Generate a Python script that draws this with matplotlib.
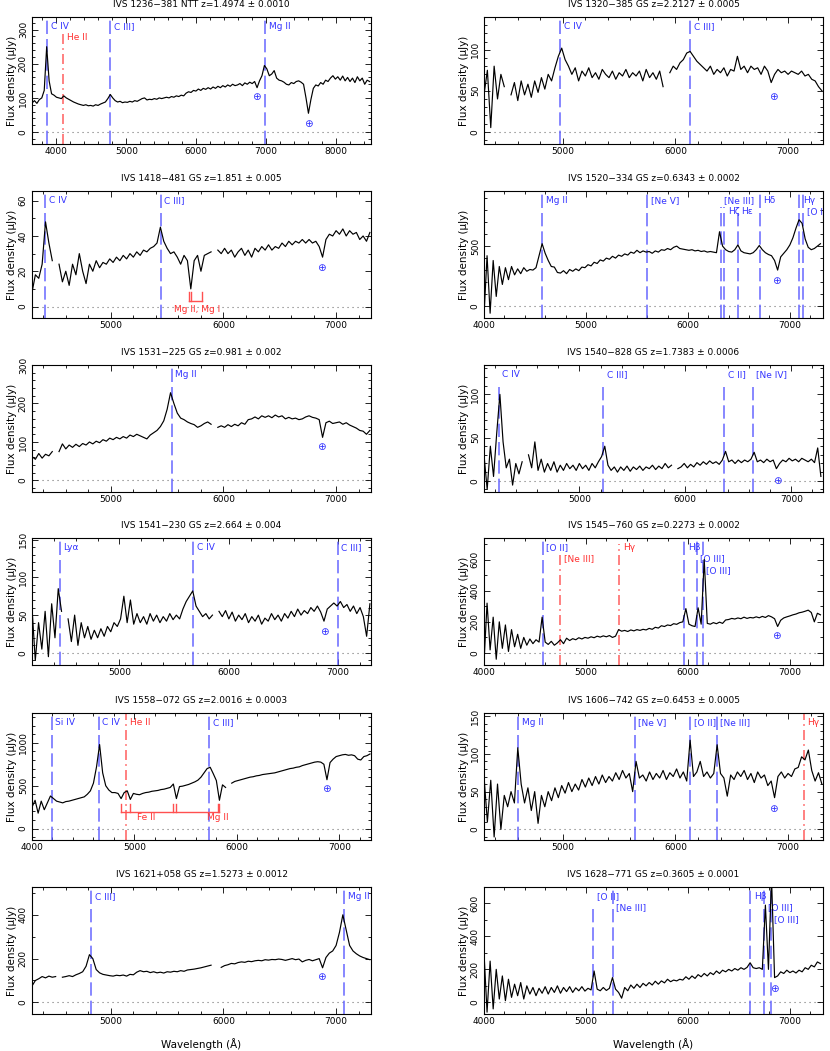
import numpy as np
import matplotlib.pyplot as plt
from matplotlib.ticker import MultipleLocator

plt.rcParams['font.family'] = ['DejaVu Sans']
plt.rcParams['font.size'] = 6.5

nan = np.nan

# ---- spectra (flux density in uJy), evenly sampled from a start wavelength ----
# IVS 1236-381, 3650 A, step 35 A
flux_1236 = [85, 92, 84, 95, 100, 122, 250, 150, 112, 108,
             102, 100, 98, 106, 100, 96, 92, 88, 85, 82,
             80, 78, 80, 77, 78, 76, 80, 78, 82, 85,
             88, 98, 110, 100, 92, 88, 90, 86, 88, 87,
             90, 88, 92, 90, 94, 98, 100, 94, 96, 95,
             98, 96, 100, 98, 100, 102, 100, 104, 102, 106,
             104, 108, 106, 114, 118, 116, 122, 120, 126, 122,
             128, 125, 130, 126, 132, 128, 134, 130, 136, 132,
             138, 134, 140, 136, 138, 142, 136, 144, 140, 146,
             142, 148, 130, 150, 165, 195, 185, 165, 170, 180,
             158, 152, 150, 146, 140, 138, 145, 142, 148, 150,
             146, 140, 100, 55, 95, 128, 138, 135, 145, 140,
             152, 148, 158, 165, 155, 162, 152, 164, 150, 160,
             148, 158, 145, 162, 150, 158, 140, 152, 148]
# IVS 1320-385, 4300 A, step 30 A
flux_1320 = [45, 75, 5, 80, 40, 70, 55, nan, 45, 60,
             38, 62, 45, 58, 42, 62, 48, 66, 52, 70,
             62, 78, 92, 102, 88, 80, 70, 78, 62, 74,
             68, 78, 66, 72, 64, 76, 70, 66, 74, 64,
             72, 68, 76, 66, 72, 68, 74, 62, 76, 66,
             72, 64, 74, 55, nan, 72, 80, 76, 84, 88,
             96, 98, 92, 86, 82, 78, 74, 80, 70, 76,
             72, 78, 68, 76, 74, 92, 76, 80, 72, 80,
             76, 78, 70, 80, 74, 60, 70, 76, 72, 74,
             70, 74, 72, 70, 74, 68, 70, 64, 62, 55,
             50]
# IVS 1418-481, 4300 A, step 30 A
flux_1418 = [8, 18, 16, 24, 48, 36, 26, nan, 24, 14,
             20, 12, 24, 18, 30, 20, 13, 24, 20, 26,
             22, 25, 24, 27, 25, 28, 26, 29, 27, 30,
             28, 31, 29, 32, 31, 33, 34, 36, 45, 37,
             33, 30, 31, 28, 24, 29, 26, 10, 26, 29,
             20, 29, 30, 31, nan, 32, 30, 33, 30, 32,
             28, 31, 33, 29, 32, 28, 33, 31, 34, 32,
             35, 32, 34, 33, 36, 34, 37, 35, 37, 36,
             38, 36, 38, 36, 37, 34, 28, 38, 41, 40,
             43, 41, 44, 40, 43, 41, 42, 38, 40, 37,
             42]
# IVS 1520-334, 4000 A, step 30 A
flux_1520 = [-80, 420, -60, 380, 80, 330, 180, 320, 220, 330,
             260, 310, 270, 320, 290, 305, 300, 320, 420, 520,
             440, 380, 330, 325, 280, 275, 295, 270, 305, 290,
             310, 295, 325, 320, 345, 335, 365, 355, 385, 375,
             400, 390, 415, 400, 425, 415, 435, 425, 450, 440,
             465, 445, 460, 450, 455, 440, 460, 450, 470, 465,
             480, 470, 490, 500, 480, 475, 470, 465, 470, 460,
             465, 455, 460, 450, 455, 450, 445, 620, 500, 470,
             455, 450, 470, 510, 460, 445, 440, 435, 445, 470,
             505, 470, 445, 430, 420, 380, 300, 410, 440, 470,
             510, 570, 650, 720, 690, 560, 490, 470, 480, 500,
             520]
# IVS 1531-225, 4300 A, step 30 A
flux_1531 = [62, 55, 70, 58, 68, 64, 75, nan, 75, 95,
             82, 92, 86, 94, 88, 96, 92, 100, 95, 102,
             98, 106, 102, 110, 106, 112, 108, 114, 110, 118,
             114, 120, 116, 112, 108, 118, 124, 130, 140, 155,
             185, 228, 200, 175, 162, 158, 152, 148, 145, 138,
             142, 148, 152, 146, nan, 138, 142, 138, 145, 140,
             146, 142, 150, 146, 158, 160, 165, 160, 168, 164,
             168, 163, 170, 165, 168, 160, 164, 160, 162, 158,
             160, 165, 168, 164, 162, 158, 112, 150, 154, 148,
             150, 152, 146, 150, 144, 140, 136, 130, 128, 120,
             130]
# IVS 1540-828, 4100 A, step 30 A
flux_1540 = [30, -10, 40, 5, 55, 100, 45, 15, 25, -5,
             20, 8, 22, nan, 30, 15, 45, 12, 25, 10,
             20, 12, 22, 10, 18, 12, 20, 14, 18, 12,
             20, 14, 18, 12, 20, 15, 22, 28, 40, 18,
             12, 16, 10, 16, 12, 17, 11, 16, 13, 17,
             12, 16, 14, 18, 13, 17, 14, 20, 15, 18,
             nan, 14, 16, 20, 15, 19, 16, 21, 18, 22,
             19, 23, 20, 22, 19, 24, 34, 22, 24, 20,
             24, 21, 24, 22, 25, 33, 22, 24, 21, 25,
             22, 24, 14, 20, 24, 22, 26, 23, 25, 22,
             26, 24, 22, 25, 21, 38, 5]
# IVS 1541-230, 4200 A, step 30 A
flux_1541 = [60, -10, 40, 5, 55, -5, 65, 20, 85, 55,
             nan, 45, 15, 50, 10, 40, 20, 35, 18, 30,
             20, 32, 22, 35, 28, 40, 35, 45, 75, 40,
             70, 38, 52, 40, 48, 38, 52, 42, 50, 40,
             48, 42, 52, 44, 50, 45, 58, 68, 75, 82,
             62, 55, 48, 52, 45, 50, nan, 55, 48, 56,
             45, 54, 42, 50, 44, 52, 40, 48, 42, 50,
             38, 46, 42, 52, 44, 50, 42, 52, 46, 55,
             48, 58, 50, 56, 52, 60, 55, 62, 54, 42,
             58, 62, 66, 62, 68, 60, 64, 55, 62, 52,
             60, 48, 22, 65]
# IVS 1545-760, 4000 A, step 30 A
flux_1545 = [-60, 320, 20, 230, -40, 200, 30, 180, 10, 150,
             40, 120, 30, 100, 50, 90, 60, 85, 70, 230,
             70, 55, 75, 50, 65, 85, 60, 95, 80, 92,
             85, 98, 90, 100, 95, 104, 98, 108, 102, 110,
             104, 112, 100, 108, 150, 140, 145, 138, 148, 142,
             150, 145, 152, 148, 158, 152, 165, 160, 175, 170,
             180, 176, 188, 184, 195, 200, 285, 185, 175, 170,
             290, 185, 600, 190, 185, 195, 188, 198, 190, 212,
             215, 222, 218, 225, 220, 230, 222, 228, 225, 232,
             226, 235, 228, 240, 232, 220, 170, 210, 225, 232,
             238, 245, 250, 258, 262, 268, 275, 260, 200, 255,
             245]
# IVS 1558-072, 4000 A, step 30 A
flux_1558 = [250, 330, 180, 320, 220, 300, 380, 350, 320, 310,
             300, 315, 320, 330, 340, 350, 360, 370, 400, 440,
             530, 720, 980, 650, 500, 450, 420, 420, 410, 350,
             420, 440, 340, 410, 400, 395, 410, 420, 425, 435,
             440, 445, 455, 460, 470, 480, 520, 350, 490, 495,
             505, 515, 530, 545, 565, 600, 650, 700, 715, 640,
             560, 330, 510, 480, nan, 530, 550, 560, 570, 580,
             590, 600, 605, 615, 620, 630, 635, 640, 645, 650,
             660, 670, 680, 690, 700, 705, 715, 720, 735, 745,
             755, 765, 775, 780, 775, 750, 570, 770, 810, 840,
             850, 860, 865, 855, 860, 850, 810, 800, 840, 850,
             870]
# IVS 1606-742, 4300 A, step 30 A
flux_1606 = [70, 10, 65, -10, 60, 0, 45, 30, 50, 35,
             108, 60, 35, 55, 25, 50, 8, 45, 30, 50,
             38, 55, 42, 58, 48, 62, 50, 60, 52, 66,
             56, 68, 58, 70, 60, 72, 62, 70, 64, 75,
             66, 78, 68, 74, 50, 90, 68, 72, 64, 76,
             66, 74, 68, 78, 66, 75, 70, 80, 68, 76,
             64, 118, 70, 76, 90, 70, 76, 68, 74, 112,
             74, 68, 44, 72, 66, 76, 70, 78, 66, 74,
             62, 76, 68, 72, 58, 64, 42, 70, 76, 68,
             74, 70, 80, 82, 96, 92, 105, 78, 64, 75,
             60]
# IVS 1621+058, 4300 A, step 30 A
flux_1621 = [75, 100, 108, 118, 112, 120, 115, 118, nan, 115,
             118, 122, 118, 126, 132, 140, 165, 218, 200, 150,
             135, 128, 125, 122, 120, 124, 122, 125, 120, 128,
             126, 138, 145, 140, 142, 136, 140, 135, 138, 134,
             140, 138, 142, 140, 145, 142, 148, 150, 152, 155,
             158, 162, 166, 170, nan, nan, 160, 168, 172, 178,
             176, 182, 185, 183, 188, 186, 190, 192, 190, 195,
             193, 196, 195, 198, 196, 192, 196, 200, 195, 198,
             185, 192, 196, 190, 195, 200, 158, 205, 225, 235,
             260, 320, 400, 330, 260, 235, 222, 212, 205, 200,
             195]
# IVS 1628-771, 4000 A, step 30 A
flux_1628 = [300, -60, 250, -40, 200, 20, 160, 10, 140, 30,
             110, 40, 120, 20, 100, 50, 90, 40, 85, 55,
             95, 50, 90, 60, 100, 55, 90, 65, 95, 60,
             88, 70, 95, 68, 85, 75, 190, 80, 70, 90,
             72, 85, 150, 80, 60, 25, 90, 70, 105, 85,
             110, 90, 115, 100, 120, 105, 128, 110, 130, 118,
             140, 125, 135, 130, 140, 135, 155, 140, 160, 145,
             168, 155, 175, 160, 180, 168, 190, 175, 195, 185,
             200, 190, 205, 195, 210, 200, 212, 240, 210, 205,
             210, 200, 590, 200, 760, 150, 160, 185, 175, 195,
             180, 190, 178, 195, 185, 210, 200, 225, 215, 245,
             235]

# rest wavelengths of the marked lines (A)
REST = {'Lya': 1216, 'SiIV': 1397, 'CIV': 1549, 'HeII': 1640, 'CIII': 1909,
        'CII': 2326, 'NeIV': 2424, 'MgII': 2798, 'NeV': 3426, 'OII': 3727,
        'NeIII': 3869, 'Hz': 3889, 'He': 3970, 'Hd': 4102, 'Hg': 4340,
        'OIII43': 4363, 'Hb': 4861, 'OIII49': 4959, 'OIII50': 5007}
NAMES = {'Lya': 'Lyα', 'SiIV': 'Si IV', 'CIV': 'C IV', 'HeII': 'He II',
         'CIII': 'C III]', 'CII': 'C II]', 'NeIV': '[Ne IV]', 'MgII': 'Mg II',
         'NeV': '[Ne V]', 'OII': '[O II]', 'NeIII': '[Ne III]', 'Hz': 'Hζ',
         'He': 'Hε', 'Hd': 'Hδ', 'Hg': 'Hγ', 'OIII43': '[O III]', 'Hb': 'Hβ',
         'OIII49': '[O III]', 'OIII50': '[O III]'}

BLUE_T, BLUE_L = '#3434ff', '#5a5aff'
RED_T, RED_L = '#ff3030', '#ff5050'
ROWY = {1: 0.927, 2: 0.835, 3: 0.745}

# (key, colour, label row, top of marker line in axes fraction)
panels = [
    dict(title='IVS 1236−381 NTT z=1.4974 ± 0.0010', z=1.4974, flux=flux_1236,
         start=3650, step=35, xlim=(3650, 8500), ylim=(-35, 337), ymaj=100, ymin=20,
         lines=[('CIV', 'b', 1, 1.0), ('HeII', 'r', 2, 0.88), ('CIII', 'b', 1, 1.0),
                ('MgII', 'b', 1, 1.0)],
         earth=[(6865, 104), (7600, 24)]),
    dict(title='IVS 1320−385 GS z=2.2127 ± 0.0005', z=2.2127, flux=flux_1320,
         start=4300, step=30, xlim=(4300, 7310), ylim=(-15, 140), ymaj=50, ymin=10,
         lines=[('CIV', 'b', 1, 1.0), ('CIII', 'b', 1, 1.0)],
         earth=[(6870, 42)]),
    dict(title='IVS 1418−481 GS z=1.851 ± 0.005', z=1.851, flux=flux_1418,
         start=4300, step=30, xlim=(4300, 7310), ylim=(-6.5, 65.5), ymaj=20, ymin=10,
         lines=[('CIV', 'b', 1, 1.0), ('CIII', 'b', 1, 1.0)],
         earth=[(6870, 22)],
         bracket=dict(z=1.0379, rest=[2796, 2803, 2852], y0=3.2, y1=8.2,
                      labels=[('Mg II, Mg I', 5762, -1.9)])),
    dict(title='IVS 1520−334 GS z=0.6343 ± 0.0002', z=0.6343, flux=flux_1520,
         start=4000, step=30, xlim=(4000, 7325), ylim=(-100, 960), ymaj=500, ymin=100,
         lines=[('MgII', 'b', 1, 0.98), ('NeV', 'b', 1, 0.98), ('NeIII', 'b', 1, 0.875),
                ('Hz', 'b', 2, 0.875), ('He', 'b', 2, 0.875), ('Hd', 'b', 1, 0.98),
                ('Hg', 'b', 1, 0.98), ('OIII43', 'b', 2, 0.98)],
         earth=[(6870, 210)]),
    dict(title='IVS 1531−225 GS z=0.981 ± 0.002', z=0.981, flux=flux_1531,
         start=4300, step=30, xlim=(4300, 7310), ylim=(-30, 300), ymaj=100, ymin=20,
         lines=[('MgII', 'b', 1, 1.0)],
         earth=[(6870, 88)]),
    dict(title='IVS 1540−828 GS z=1.7383 ± 0.0006', z=1.7383, flux=flux_1540,
         start=4100, step=30, xlim=(4100, 7300), ylim=(-13, 134), ymaj=50, ymin=10,
         lines=[('CIV', 'b', 1, 0.87), ('CIII', 'b', 1, 0.87), ('CII', 'b', 1, 0.87),
                ('NeIV', 'b', 1, 0.87)],
         earth=[(6870, 0)]),
    dict(title='IVS 1541−230 GS z=2.664 ± 0.004', z=2.664, flux=flux_1541,
         start=4200, step=30, xlim=(4200, 7300), ylim=(-16, 152), ymaj=50, ymin=10,
         lines=[('Lya', 'b', 1, 1.0), ('CIV', 'b', 1, 1.0), ('CIII', 'b', 1, 1.0)],
         earth=[(6870, 28)]),
    dict(title='IVS 1545−760 GS z=0.2273 ± 0.0002', z=0.2273, flux=flux_1545,
         start=4000, step=30, xlim=(4000, 7325), ylim=(-77, 738), ymaj=200, ymin=100,
         lines=[('OII', 'b', 1, 0.99), ('NeIII', 'r', 2, 0.875), ('Hg', 'r', 1, 0.95),
                ('Hb', 'b', 1, 0.99), ('OIII49', 'b', 2, 0.99), ('OIII50', 'b', 3, 0.99)],
         earth=[(6870, 106)]),
    dict(title='IVS 1558−072 GS z=2.0016 ± 0.0003', z=2.0016, flux=flux_1558,
         start=4000, step=30, xlim=(4000, 7310), ylim=(-133, 1348), ymaj=500, ymin=100,
         lines=[('SiIV', 'b', 1, 1.0), ('CIV', 'b', 1, 1.0), ('HeII', 'r', 1, 1.0),
                ('CIII', 'b', 1, 1.0)],
         earth=[(6870, 461)],
         bracket=dict(z=1.079, rest=[2344, 2382, 2586, 2600, 2796, 2803], y0=195, y1=285,
                      labels=[('Fe II', 5116, 129), ('Mg II', 5813, 129)])),
    dict(title='IVS 1606−742 GS z=0.6453 ± 0.0005', z=0.6453, flux=flux_1606,
         start=4300, step=30, xlim=(4300, 7310), ylim=(-14, 154), ymaj=50, ymin=10,
         lines=[('MgII', 'b', 1, 1.0), ('NeV', 'b', 1, 1.0), ('OII', 'b', 1, 1.0),
                ('NeIII', 'b', 1, 1.0), ('Hg', 'r', 1, 1.0)],
         earth=[(6870, 27)]),
    dict(title='IVS 1621+058 GS z=1.5273 ± 0.0012', z=1.5273, flux=flux_1621,
         start=4300, step=30, xlim=(4300, 7310), ylim=(-53, 527), ymaj=200, ymin=100,
         lines=[('CIII', 'b', 1, 1.0), ('MgII', 'b', 1, 1.0)],
         earth=[(6870, 118)]),
    dict(title='IVS 1628−771 GS z=0.3605 ± 0.0001', z=0.3605, flux=flux_1628,
         start=4000, step=30, xlim=(4000, 7325), ylim=(-71, 700), ymaj=200, ymin=100,
         lines=[('OII', 'b', 1, 0.855), ('NeIII', 'b', 2, 1.0), ('Hb', 'b', 1, 1.0),
                ('OIII49', 'b', 2, 1.0), ('OIII50', 'b', 3, 1.0)],
         earth=[(6850, 81)]),
]

W, H = 830, 1051
fig = plt.figure(figsize=(W / 100, H / 100), dpi=100)
col_x = [32, 484]
row_top = [17, 191, 365, 538, 713, 887]
AW, AH = 339, 127

for k, p in enumerate(panels):
    r, c = divmod(k, 2)
    ax = fig.add_axes([col_x[c] / W, 1 - (row_top[r] + AH) / H, AW / W, AH / H])
    wl = p['start'] + p['step'] * np.arange(len(p['flux']))
    fl = np.array(p['flux'], dtype=float)

    ax.axhline(0, color='0.45', lw=0.8, ls=(0, (1, 3.5)), zorder=1)
    xt = ax.get_xaxis_transform()
    for key, col, row, top in p['lines']:
        x = REST[key] * (1 + p['z'])
        if col == 'b':
            ax.plot([x, x], [0, top], transform=xt, color=BLUE_L, alpha=0.85, lw=1.2,
                    ls=(0, (8, 3)), zorder=2)
            tc = BLUE_T
        else:
            ax.plot([x, x], [0, top], transform=xt, color=RED_L, alpha=0.85, lw=1.2,
                    ls=(0, (6, 2.5, 1, 2.5)), zorder=2)
            tc = RED_T
        ax.annotate(NAMES[key], xy=(x, ROWY[row]), xycoords=xt, xytext=(2.5, 0),
                    textcoords='offset points', color=tc, fontsize=6.5,
                    ha='left', va='center', clip_on=True)

    for ex, ey in p['earth']:
        ax.text(ex, ey, '⊕', color=BLUE_T, fontsize=7.5, ha='center', va='center')

    b = p.get('bracket')
    if b:
        xs = [w * (1 + b['z']) for w in b['rest']]
        ax.plot([xs[0], xs[-1]], [b['y0'], b['y0']], color=RED_L, lw=1.0, zorder=2)
        for x in xs:
            ax.plot([x, x], [b['y0'], b['y1']], color=RED_L, lw=1.0, zorder=2)
        for txt, tx, ty in b['labels']:
            ax.text(tx, ty, txt, color=RED_T, fontsize=6.5, ha='center', va='center')

    ax.plot(wl, fl, color='black', lw=0.85, zorder=3)

    ax.set_xlim(*p['xlim'])
    ax.set_ylim(*p['ylim'])
    ax.xaxis.set_major_locator(MultipleLocator(1000))
    ax.xaxis.set_minor_locator(MultipleLocator(200))
    ax.yaxis.set_major_locator(MultipleLocator(p['ymaj']))
    ax.yaxis.set_minor_locator(MultipleLocator(p['ymin']))
    ax.tick_params(which='both', direction='in', top=True, right=True, width=0.6,
                   labelsize=6.5)
    ax.tick_params(which='major', length=4)
    ax.tick_params(which='minor', length=2)
    ax.tick_params(axis='x', pad=2)
    ax.tick_params(axis='y', pad=3, labelrotation=90)
    for lbl in ax.get_yticklabels():
        lbl.set_va('center')
    for s in ax.spines.values():
        s.set_linewidth(0.8)

    ax.set_title(p['title'], fontsize=6.5, pad=7)
    ax.set_ylabel('Flux density (μJy)', fontsize=7.5, labelpad=1.5)
    if r == 5:
        ax.set_xlabel('Wavelength (Å)', fontsize=7.5, labelpad=9)

fig.savefig('out.png', dpi=100, facecolor='white')
